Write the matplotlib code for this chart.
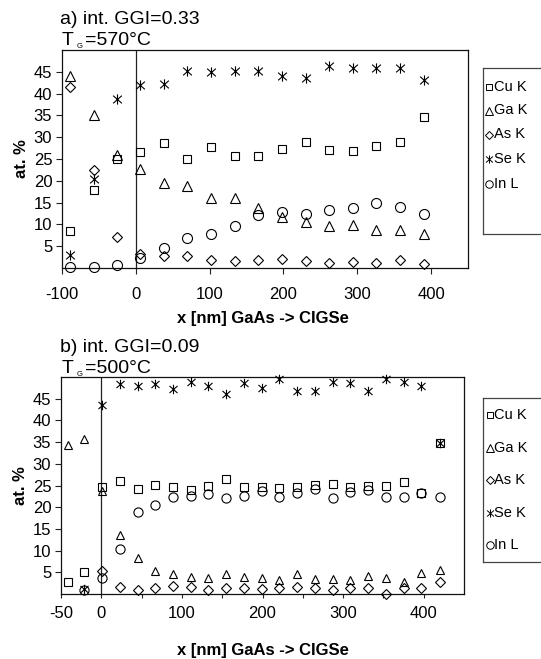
import numpy as np
import matplotlib
matplotlib.use("Agg")
import matplotlib.pyplot as plt
from matplotlib.path import Path

plt.rcParams['font.family'] = ['Liberation Sans', 'DejaVu Sans']
plt.rcParams['axes.unicode_minus'] = False

# ---------------- data ----------------
series_names = ["Cu K", "Ga K", "As K", "Se K", "In L"]

x_a = [-89, -57, -25, 6, 38, 70, 102, 134, 166, 198, 230, 262, 294, 326, 358, 390]
cu_a = [8.5, 17.9, 25.0, 26.7, 28.7, 25.0, 27.7, 25.6, 25.6, 27.3, 28.8, 27.1, 26.9, 28.0, 29.0, 34.6]
ga_a = [44.0, 35.2, 26.0, 22.7, 19.6, 18.7, 16.0, 16.0, 13.7, 11.6, 10.6, 9.6, 9.8, 8.8, 8.7, 7.8]
as_a = [41.6, 22.5, 7.0, 3.3, 2.7, 2.7, 1.9, 1.6, 1.9, 2.1, 1.6, 1.2, 1.4, 1.2, 1.8, 0.9]
se_a = [2.9, 20.4, 38.8, 41.9, 42.1, 45.2, 44.9, 45.2, 45.2, 44.0, 43.5, 46.3, 45.9, 45.8, 45.8, 43.1]
in_a = [0.2, 0.2, 0.8, 2.4, 4.5, 6.9, 7.9, 9.7, 12.1, 12.8, 12.5, 13.4, 13.7, 14.8, 13.9, 12.4]

nan = np.nan
x_b = [-41, -21, 1, 23, 45, 67, 89, 111, 133, 155, 177, 199, 221, 243, 265, 287, 309, 331, 353, 375, 397, 420]
cu_b = [2.8, 5.0, 24.6, 26.1, 24.1, 25.1, 24.7, 24.0, 25.0, 26.4, 24.6, 24.6, 24.4, 24.6, 25.1, 25.3, 24.7, 25.0, 24.9, 25.9, 23.3, 34.7]
ga_b = [34.4, 35.7, 23.8, 13.5, 8.3, 5.2, 4.5, 3.9, 3.7, 4.7, 3.9, 3.6, 3.3, 4.7, 3.5, 3.5, 3.3, 4.1, 3.7, 2.7, 4.9, 5.6]
as_b = [nan, nan, 5.4, 1.7, 0.9, 1.4, 1.8, 1.6, 1.0, 1.4, 1.3, 1.2, 1.3, 1.7, 1.4, 1.0, 1.3, 1.3, 0.0, 1.3, 1.3, 2.7]
se_b = [nan, 1.2, 43.5, 48.4, 48.0, 48.3, 47.3, 48.8, 47.9, 46.1, 48.7, 47.5, 49.6, 46.7, 46.7, 48.8, 48.6, 46.7, 49.6, 48.8, 48.0, 34.7]
in_b = [nan, 1.0, 3.6, 10.4, 19.0, 20.4, 22.3, 22.6, 23.1, 22.1, 22.6, 23.8, 22.3, 23.3, 24.2, 22.1, 23.6, 24.0, 22.3, 22.3, 23.3, 22.3]

yticks = [5, 10, 15, 20, 25, 30, 35, 40, 45]
xticks_a = [-100, 0, 100, 200, 300, 400]
xticks_b = [-50, 0, 100, 200, 300, 400]
xticks_b_minor = [50, 150, 250, 350]

# ---------------- styling ----------------
W, H = 541, 659
fig = plt.figure(figsize=(W / 100, H / 100), dpi=100)

def px_rect(l, t, r, b):
    return [l / W, 1 - b / H, (r - l) / W, (b - t) / H]

star = Path([(0, -1), (0, 1), (-0.85, -0.75), (0.85, 0.75), (-0.85, 0.75), (0.85, -0.75)],
            [Path.MOVETO, Path.LINETO, Path.MOVETO, Path.LINETO, Path.MOVETO, Path.LINETO])
markers = ['s', '^', 'D', star, 'o']
sizes_a = [6.0, 7.2, 5.1, 7.4, 7.2]
sizes_b = [6.0, 6.2, 4.6, 6.8, 6.6]

def draw_panel(rect, x, data, sizes, xlim, xticks, minor=None, pad_x=9):
    ax = fig.add_axes(rect)
    for ys, m, ms in zip(data, markers, sizes):
        ax.plot(x, ys, linestyle='none', marker=m, ms=ms, mfc='none', mec='black',
                mew=0.8, clip_on=False, zorder=3)
    ax.axvline(0, color='#222222', lw=0.9, zorder=1)
    ax.set_xlim(*xlim)
    ax.set_ylim(0, 50)
    ax.set_yticks(yticks)
    ax.set_xticks(xticks)
    if minor is not None:
        ax.set_xticks(minor, minor=True)
        ax.tick_params(axis='x', which='minor', direction='out', length=3.2, width=0.8, color='#222222')
    ax.tick_params(axis='y', direction='out', length=4.5, width=0.8, labelsize=12, pad=2.5, color='#222222')
    ax.tick_params(axis='x', which='major', direction='out', length=4.0 if minor is None else 3.2,
                   width=0.8, labelsize=12, pad=pad_x, color='#222222')
    for s in ax.spines.values():
        s.set_linewidth(0.9)
        s.set_color('#111111')
    ax.set_ylabel('at. %', fontsize=12, fontweight='bold', labelpad=3)
    return ax

ax_a = draw_panel(px_rect(62, 50, 468, 268), x_a, [cu_a, ga_a, as_a, se_a, in_a], sizes_a,
                  (-100, 450), xticks_a, pad_x=10.0)
ax_b = draw_panel(px_rect(61, 377, 464, 594), x_b, [cu_b, ga_b, as_b, se_b, in_b], sizes_b,
                  (-50, 450), xticks_b, minor=xticks_b_minor, pad_x=5.5)

# x labels
fig.text(263 / W, 1 - 318 / H, 'x [nm] GaAs -> CIGSe', fontsize=12, fontweight='bold',
         ha='center', va='center')
fig.text(263 / W, 1 - 650 / H, 'x [nm] GaAs -> CIGSe', fontsize=12, fontweight='bold',
         ha='center', va='center')

# titles
def title(y_base, line1, temp):
    fig.text(60 / W, 1 - y_base / H, line1, fontsize=14, ha='left', va='baseline')
    y2 = y_base + 21
    fig.text(62 / W, 1 - y2 / H, 'T', fontsize=14, ha='left', va='baseline')
    fig.text(76.5 / W, 1 - (y2 + 3.5) / H, 'G', fontsize=5.5, ha='left', va='baseline')
    fig.text(85 / W, 1 - y2 / H, '=' + temp, fontsize=14, ha='left', va='baseline')

title(24, 'a) int. GGI=0.33', '570°C')
title(352, 'b) int. GGI=0.09', '500°C')

# legends (boxed, clipped at right figure edge)
def legend_box(left, top, bottom, ys):
    lax = fig.add_axes(px_rect(left, top, left + 90, bottom))
    lax.set_xlim(left, left + 90)
    lax.set_ylim(bottom, top)
    lax.set_xticks([])
    lax.set_yticks([])
    for s in lax.spines.values():
        s.set_linewidth(0.9)
        s.set_color('#444444')
    lsz = [4.8, 5.8, 4.1, 5.8, 5.4]
    for name, m, ms, yy in zip(series_names, markers, lsz, ys):
        lax.plot([left + 6.3], [yy], linestyle='none', marker=m, ms=ms, mfc='none',
                 mec='black', mew=0.7)
        lax.text(left + 11.0, yy, name, fontsize=10.5, ha='left', va='center')

legend_box(482.7, 68.3, 234, [86.7, 110.5, 134.5, 159, 184])
legend_box(483.3, 397.7, 561.7, [415, 447.5, 480, 513, 545])

fig.savefig('out.png', dpi=100)
